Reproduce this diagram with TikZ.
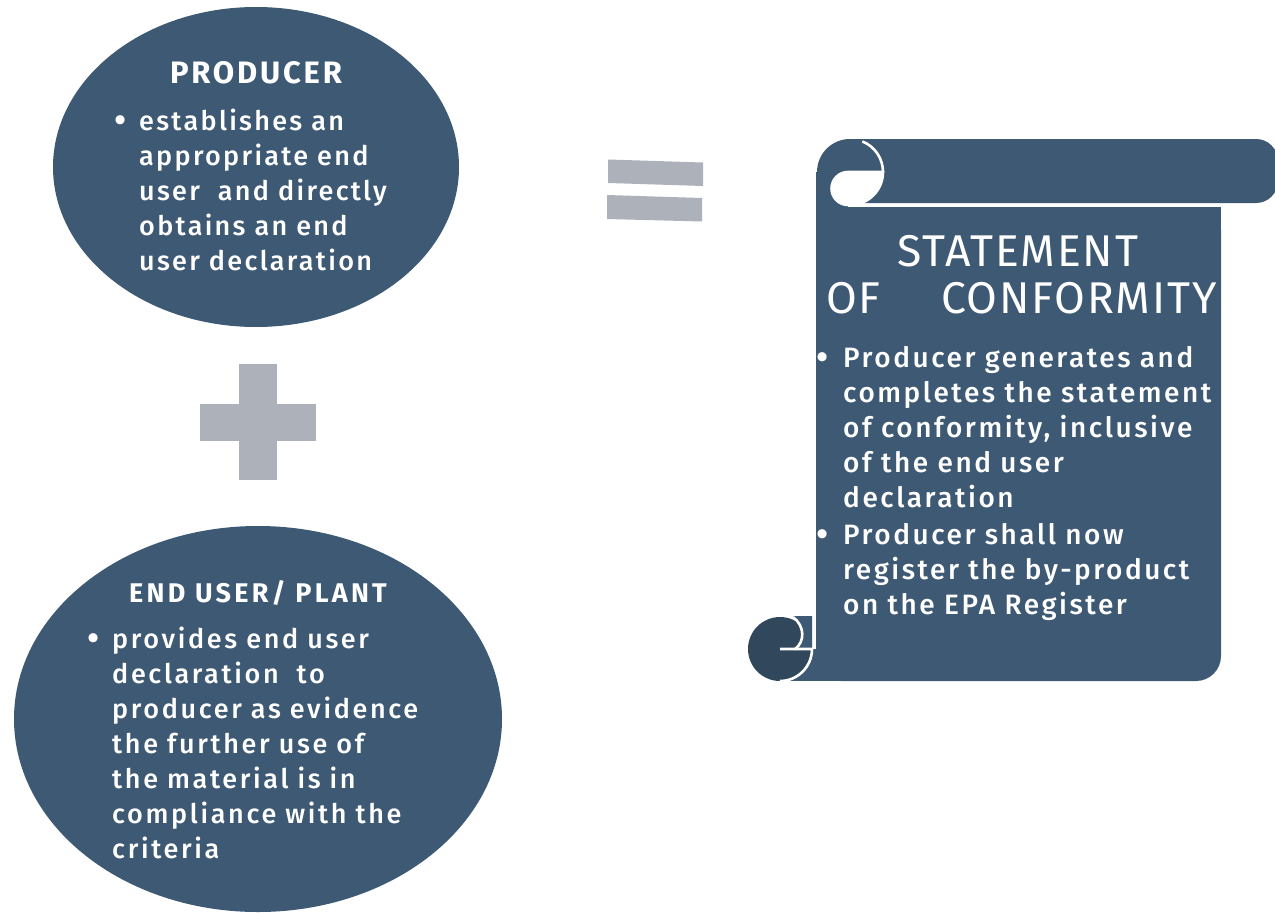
\documentclass[tikz,border=0pt]{standalone}
\usepackage{fontspec}
\IfFontExistsTF{Fira Sans Medium}
  {\setmainfont{Fira Sans Medium}[BoldFont={Fira Sans Bold}]}
  {\setmainfont{Fira Sans}}
\newfontfamily\regfont{Fira Sans}
\usetikzlibrary{shapes.geometric}
\definecolor{navy}{HTML}{3E5974}
\definecolor{navydark}{HTML}{30475C}
\definecolor{greybar}{HTML}{ADB1BA}
\newcommand\myBody{\fontsize{27}{35}\selectfont\addfontfeatures{LetterSpace=8.5}}
\newcommand\myBodyE{\fontsize{27}{35}\selectfont\addfontfeatures{LetterSpace=9.8}}
\newcommand\myBodyB{\fontsize{28}{35}\selectfont\addfontfeatures{LetterSpace=9}}
\newcommand\myDot{\fontsize{36}{36}\selectfont}
\newcommand\myHeadA{\fontsize{31}{34}\selectfont\bfseries\addfontfeatures{LetterSpace=9}}
\newcommand\myHeadB{\fontsize{27}{30}\selectfont\bfseries\addfontfeatures{LetterSpace=12}}
\newcommand\myTitle{\regfont\fontsize{44.5}{48}\selectfont\addfontfeatures{LetterSpace=4}}
\begin{document}
\begin{tikzpicture}[x=1pt,y=-1pt,
  blob/.style={ellipse, fill=navy, inner sep=0pt, draw=none},
  headtxt/.style={text=white, anchor=base, inner sep=0pt},
  bodytxt/.style={text=white, font=\myBody, anchor=base west, align=left, text width=380pt, inner sep=0pt},
  dottxt/.style={text=white, font=\myDot, anchor=base west, inner sep=0pt},
  titletxt/.style={text=white, font=\myTitle, inner sep=0pt},
  bar/.style={fill=greybar},
  rollline/.style={white, line width=2.6pt},
]
\useasboundingbox (0,0) rectangle (1275,913);
\fill[white] (0,0) rectangle (1275,913);

% ellipses
\node[blob, minimum width=406pt, minimum height=320pt] (prod) at (256,167) {};
\node[blob, minimum width=488pt, minimum height=386pt] (enduser) at (258,719) {};

% producer text
\node[headtxt, font=\myHeadA] (prodhead) at (256,83) {PRODUCER};
\node[dottxt] (proddot) at (114,132) {•};
\node[bodytxt] (prodtxt) at (139,130) {establishes an\\appropriate end\\user\ \ and directly\\obtains an end\\user declaration};

% end user text
\node[headtxt, font=\myHeadB] (euhead) at (258,602) {END USER/ PLANT};
\node[dottxt] (eudot) at (87,650) {•};
\node[bodytxt, font=\myBodyE] (eutxt) at (112,648) {provides end user\\declaration\ \ to\\producer as evidence\\the further use of\\the material is in\\compliance with the\\criteria};

% plus sign
\fill[bar] (239,364) rectangle (277,480);
\fill[bar] (200,404) rectangle (316,441);

% equals sign
\fill[bar] (608,159.5) -- (703,162.5) -- (703,186) -- (608,183) -- cycle;
\fill[bar] (607,195) -- (702,198) -- (702,221.5) -- (607,219) -- cycle;

% scroll: top band
\fill[navy] (850,139) [rounded corners=22pt] -- (1278,139) -- (1278,203) [sharp corners] -- (850,203) -- cycle;
\fill[navy] (850,172) circle (33);
\fill[navy] (816,172) rectangle (850,208);
% body
\fill[navy, rounded corners=25pt] (816,205) rectangle (1221,681);
\fill[navy] (816,205) rectangle (1100,681);
\fill[navy] (816,205) rectangle (1221,500);
% top curl
\filldraw[fill=navydark, rollline] (848,172) -- (883,172) arc[start angle=0, end angle=90, radius=33] -- (848,205) arc[start angle=90, end angle=270, radius=16.5] -- cycle;
\draw[rollline] (850,172) ++(-68:33) arc[start angle=-68, end angle=0, radius=33];
\draw[rollline] (848,205.5) -- (1221,205.5);
% bottom curl
\fill[navy] (780,649) rectangle (816,681);
\fill[navydark] (780,649) circle (32);
\fill[navy] (793,616) -- (812,616) -- (812,649) -- (795,649) .. controls (805,642) and (805,626) .. (793,617) -- cycle;
\draw[rollline] (793,617) .. controls (805,626) and (805,642) .. (795,649) -- (780,649);
\draw[rollline] (795,649) -- (812,649) arc[start angle=0, end angle=90, radius=32];
\draw[rollline] (814,612) -- (814,649);

% scroll text
\node[titletxt, anchor=base] (t1) at (1018,266) {STATEMENT};
\node[titletxt, anchor=base west] (t2) at (826,313) {OF};
\node[titletxt, anchor=base west] (t3) at (941,313) {CONFORMITY};
\node[dottxt] (sdot1) at (816,369) {•};
\node[bodytxt, font=\myBodyB] (stxt1) at (843,367) {Producer generates and\\completes the statement\\of conformity, inclusive\\of the end user\\declaration};
\node[dottxt] (sdot2) at (816,546) {•};
\node[bodytxt, font=\myBodyB] (stxt2) at (843,544) {Producer shall now\\register the by-product\\on the EPA Register};
\end{tikzpicture}
\end{document}
